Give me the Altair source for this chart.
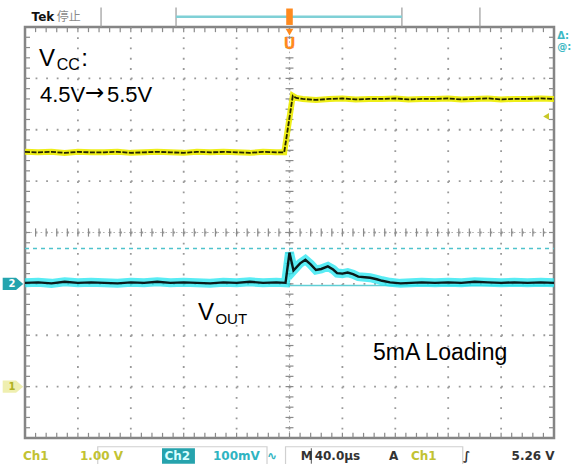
import altair as alt
import pandas as pd
import numpy as np

# ---------------- data ----------------
# time axis: 40 us/div, 10 divisions, trigger at centre
# Ch1 = VCC (1 V/div, ground marker at -3 div)
ch1_t = [-200, -190, -180, -170, -160, -150, -140, -130, -120, -110, -100, -90, -80, -70,
         -60, -50, -40, -30, -20, -10, -4, 2.5, 5, 10, 20, 30, 40, 50, 60, 70, 80, 90, 100,
         110, 120, 130, 140, 150, 160, 170, 180, 190, 200]
ch1_v = [4.57, 4.56, 4.57, 4.55, 4.57, 4.56, 4.56, 4.57, 4.55, 4.56, 4.57, 4.56, 4.55, 4.57,
         4.56, 4.57, 4.56, 4.55, 4.57, 4.56, 4.56, 5.66, 5.62, 5.60, 5.58, 5.60, 5.61, 5.59,
         5.60, 5.60, 5.61, 5.59, 5.60, 5.60, 5.61, 5.59, 5.60, 5.61, 5.59, 5.60, 5.60, 5.61, 5.60]
CH1_GND_DIV = -3.0
CH1_V_PER_DIV = 1.0

# Ch2 = VOUT (100 mV/div, reference marker at -1 div), values in mV
ch2_t = [-200, -190, -180, -170, -160, -150, -140, -130, -120, -110, -100, -90, -80, -70,
         -60, -50, -40, -30, -20, -10, -3, 0, 3, 8, 12, 16, 20, 24, 29, 33, 36, 40, 44, 48,
         52, 57, 61, 66, 70, 76, 84, 92, 100, 110, 120, 130, 140, 150, 160, 170, 180, 190, 200]
ch2_mv = [2, 3, 1, 4, 2, 3, 2, 1, 3, 2, 4, 2, 3, 2, 1, 3, 2, 4, 2, 3, 2, 61, 26, 40, 47, 38,
          27, 29, 34, 28, 21, 20, 22, 19, 14, 13, 12, 9, 6, 3, 1, 2, 3, 2, 3, 2, 4, 3, 2, 3,
          2, 3, 2]
CH2_REF_DIV = -1.0
CH2_MV_PER_DIV = 100.0
ch2_dash_mv = 69      # dashed cyan cursor
ch2_solid_mv = -3     # solid cyan line after trigger

# status-bar / header texts
status_texts = ["Ch1", "1.00 V", "Ch2", "100mV", "\u223f", "M", "40.0\u00b5s", "A", "Ch1", "\u222b"]
trigger_level_text = "5.26 V"

W, H = 529, 411
xs = alt.Scale(domain=[-200, 200], nice=False, zero=False)
ys = alt.Scale(domain=[-4, 4], nice=False, zero=False)


def X(f="t"):
    return alt.X(f"{f}:Q", scale=xs, axis=None)


def Y(f="v"):
    return alt.Y(f"{f}:Q", scale=ys, axis=None)


df1 = pd.DataFrame({"t": ch1_t, "v": [CH1_GND_DIV + v / CH1_V_PER_DIV for v in ch1_v]})
df2 = pd.DataFrame({"t": ch2_t, "v": [CH2_REF_DIV + m / CH2_MV_PER_DIV for m in ch2_mv]})

GRID = "#9a9a9a"
# ---------------- graticule ----------------
vgrid = pd.DataFrame({"t": np.arange(-160, 161, 40), "v": 4.0, "v2": -4.0})
hgrid = pd.DataFrame({"v": np.arange(-3, 4, 1), "t": -200.0, "t2": 200.0})
vgrid_l = alt.Chart(vgrid).mark_rule(color=GRID, strokeWidth=1.8, strokeDash=[1.8, 8.475]).encode(
    x=X(), y=Y(), y2="v2")
hgrid_l = alt.Chart(hgrid).mark_rule(color=GRID, strokeWidth=1.8, strokeDash=[1.8, 8.78]).encode(
    y=Y(), x=X(), x2="t2")

xm = np.arange(-192, 193, 8)
ym = np.round(np.arange(-3.8, 3.81, 0.2), 2)
tick_rows = []
for t in xm:
    tick_rows += [dict(t=t, t2=t, v=4.0, v2=3.9), dict(t=t, t2=t, v=-4.0, v2=-3.9),
                  dict(t=t, t2=t, v=-0.08, v2=0.08)]
for v in ym:
    tick_rows += [dict(t=-200, t2=-196.2, v=v, v2=v), dict(t=200, t2=196.2, v=v, v2=v),
                  dict(t=-3, t2=3, v=v, v2=v)]
ticks = pd.DataFrame(tick_rows)
ticks_l = alt.Chart(ticks).mark_rule(color="#8a8a8a", strokeWidth=1.2).encode(
    x=X(), x2="t2", y=Y(), y2="v2")
centre = pd.DataFrame([dict(t=-200, t2=200, v=0, v2=0), dict(t=0, t2=0, v=-4, v2=4)])
centre_l = alt.Chart(centre).mark_rule(color="#b0b0b0", strokeWidth=1, strokeDash=[1.6, 3.6]).encode(
    x=X(), x2="t2", y=Y(), y2="v2")

# ---------------- cursors ----------------
dash_l = alt.Chart(pd.DataFrame({"v": [CH2_REF_DIV + ch2_dash_mv / CH2_MV_PER_DIV],
                                 "t": [-200], "t2": [200]})).mark_rule(
    color="#4fc3cc", strokeWidth=1.4, strokeDash=[4, 4]).encode(y=Y(), x=X(), x2="t2")
solid_l = alt.Chart(pd.DataFrame({"v": [CH2_REF_DIV + ch2_solid_mv / CH2_MV_PER_DIV],
                                  "t": [-1], "t2": [200]})).mark_rule(
    color="#5fd0d6", strokeWidth=1.5).encode(y=Y(), x=X(), x2="t2")

# ---------------- traces ----------------
y_halo = alt.Chart(df1).mark_line(color="#ecec00", strokeWidth=6, opacity=0.9).encode(x=X(), y=Y())
y_core = alt.Chart(df1).mark_line(color="#222200", strokeWidth=1.8, strokeDash=[5, 1.5]).encode(x=X(), y=Y())
c_halo = alt.Chart(df2).mark_line(color="#22e6f0", strokeWidth=9, opacity=0.75).encode(x=X(), y=Y())
c_core = alt.Chart(df2).mark_line(color="#0a1a1a", strokeWidth=2.4).encode(x=X(), y=Y())

# ---------------- annotations ----------------
ann = pd.DataFrame([
    dict(t=-189.4, v=3.24, s="V", fs=24, f="Liberation Sans"),
    dict(t=-176.0, v=3.16, s="CC", fs=16, f="Liberation Sans"),
    dict(t=-157.5, v=3.24, s=":", fs=24, f="Liberation Sans"),
    dict(t=-188.7, v=2.54, s="4.5V", fs=22, f="Liberation Sans"),
    dict(t=-154.6, v=2.58, s="\u2192", fs=23, f="DejaVu Sans"),
    dict(t=-138.0, v=2.54, s="5.5V", fs=22, f="Liberation Sans"),
    dict(t=-69.2, v=-1.70, s="V", fs=24, f="Liberation Sans"),
    dict(t=-56.0, v=-1.78, s="OUT", fs=15, f="Liberation Sans"),
    dict(t=63.1, v=-2.48, s="5mA Loading", fs=23, f="Liberation Sans"),
])
arrow_l = alt.Chart(ann[ann.f == "DejaVu Sans"]).mark_text(
    align="left", baseline="alphabetic", font="DejaVu Sans", color="black", clip=False).encode(
    x=X(), y=Y(), text="s:N", size=alt.Size("fs:Q", scale=None))
ann_l = alt.Chart(ann[ann.f == "Liberation Sans"]).mark_text(
    align="left", baseline="alphabetic", font="Liberation Sans", color="black", clip=False).encode(
    x=X(), y=Y(), text="s:N", size=alt.Size("fs:Q", scale=None))

# ---------------- scope chrome ----------------
SV = -4.36  # status bar row
YEL = "#c2c232"
CYN = "#2fb4c2"
status = pd.DataFrame([
    dict(t=-201.5, v=SV, s=status_texts[0], c=YEL),
    dict(t=-158.4, v=SV, s=status_texts[1], c=YEL),
    dict(t=-94.5, v=SV, s=status_texts[2], c="#d8ffff"),
    dict(t=-57.9, v=SV, s=status_texts[3], c=CYN),
    dict(t=-17.0, v=SV, s=status_texts[4], c=CYN),
    dict(t=8.5, v=SV, s=status_texts[5], c="#333333"),
    dict(t=19.0, v=SV, s=status_texts[6], c="#333333"),
    dict(t=75.2, v=SV, s=status_texts[7], c="#333333"),
    dict(t=91.8, v=SV, s=status_texts[8], c=YEL),
    dict(t=131.2, v=SV, s=status_texts[9], c="#333333"),
])
box_l = alt.Chart(pd.DataFrame([dict(t=-145, t2=-17, v=-4.17, v2=-4.52),
                                dict(t=-3, t2=131, v=-4.17, v2=-4.52)])).mark_rect(
    fill="white", stroke="#d0d0d0", strokeWidth=1.2, clip=False).encode(
    x=X(), x2="t2", y=Y(), y2="v2")
ch2box_l = alt.Chart(pd.DataFrame([dict(t=-96.4, t2=-71.5, v=-4.2, v2=-4.5)])).mark_rect(
    fill="#26a3ad", clip=False).encode(x=X(), x2="t2", y=Y(), y2="v2")
status_l = alt.Chart(status).mark_text(align="left", baseline="middle", font="DejaVu Sans",
                                       fontSize=12, fontWeight="bold", clip=False).encode(
    x=X(), y=Y(), text="s:N", color=alt.Color("c:N", scale=None))
trig_l = alt.Chart(pd.DataFrame([dict(t=200.5, v=SV, s=trigger_level_text)])).mark_text(
    align="right", baseline="middle", font="DejaVu Sans", fontSize=12, fontWeight="bold",
    color="#333333", clip=False).encode(x=X(), y=Y(), text="s:N")
mdiv_l = alt.Chart(pd.DataFrame([dict(t=16.5, v=-4.2, v2=-4.5)])).mark_rule(
    color="#555", strokeWidth=1, clip=False).encode(x=X(), y=Y(), y2="v2")

# header: Tek 停止, record-length ruler
tek_l = alt.Chart(pd.DataFrame([dict(t=-195, v=4.2, s="Tek")])).mark_text(
    align="left", baseline="middle", font="DejaVu Sans", fontSize=12, fontWeight="bold",
    color="#111111", clip=False).encode(x=X(), y=Y(), text="s:N")
stop_l = alt.Chart(pd.DataFrame([dict(t=-176, v=4.2, s="\u505c\u6b62")])).mark_text(
    align="left", baseline="middle", font="Noto Sans CJK SC", fontSize=12,
    color="#8a8a8a", clip=False).encode(x=X(), y=Y(), text="s:N")
ruler_t = [-142.5, -85.8, 85.0, 144.0]
ruler_l = alt.Chart(pd.DataFrame({"t": ruler_t, "v": 4.38, "v2": 4.0})).mark_rule(
    color="#9a9a9a", strokeWidth=1.2, clip=False).encode(x=X(), y=Y(), y2="v2")
bracket_l = alt.Chart(pd.DataFrame([dict(t=-85.8, t2=85.0, v=4.2)])).mark_rule(
    color="#7fd0d6", strokeWidth=2.5, clip=False).encode(x=X(), x2="t2", y=Y())

# trigger position markers (orange)
ORG = "#ff8a1e"
tpos_top = alt.Chart(pd.DataFrame([dict(t=0, v=4.2)])).mark_point(
    shape="M-0.4,-1L0.4,-1L0.4,1L-0.4,1Z", filled=True, size=270, color=ORG, opacity=1,
    clip=False).encode(x=X(), y=Y())
tpos_arrow = alt.Chart(pd.DataFrame([dict(t=0, v=3.9)])).mark_point(
    shape="triangle-down", filled=True, size=60, color=ORG, opacity=1, clip=False).encode(x=X(), y=Y())
tpos_u = alt.Chart(pd.DataFrame([dict(t=0, v=3.67, s="U")])).mark_text(
    font="DejaVu Sans", fontSize=15, fontWeight="bold", color=ORG, baseline="middle",
    align="center", clip=False).encode(x=X(), y=Y(), text="s:N")

# channel ground markers
TAG = "M-1,-0.6L0.3,-0.6L1,0L0.3,0.6L-1,0.6Z"
marks = pd.DataFrame([dict(t=-209.1, v=CH2_REF_DIV, s="2", f="#24a4ae", tc="white"),
                      dict(t=-209.1, v=CH1_GND_DIV, s="1", f="#efefb0", tc="#b0b020")])
tag_l = alt.Chart(marks).mark_point(shape=TAG, filled=True, size=420, opacity=1, clip=False).encode(
    x=X(), y=Y(), color=alt.Color("f:N", scale=None))
tagtxt_l = alt.Chart(marks).mark_text(font="DejaVu Sans", fontSize=10, fontWeight="bold",
                                      baseline="middle", align="center", dx=-1, clip=False).encode(
    x=X(), y=Y(), text="s:N", color=alt.Color("tc:N", scale=None))
# trigger level arrow (right edge)
tlev_l = alt.Chart(pd.DataFrame([dict(t=194, v=5.26 - 3.0)])).mark_point(
    shape="triangle-left", filled=True, size=45, color="#c8c828", opacity=1).encode(x=X(), y=Y())
# top-right readout glyphs
tr = pd.DataFrame([dict(t=202.5, v=3.82, s="\u0394:"), dict(t=202.5, v=3.62, s="@:")])
tr_l = alt.Chart(tr).mark_text(align="left", baseline="middle", font="DejaVu Sans", fontSize=10,
                               fontWeight="bold", color="#3cb8c4", clip=False).encode(
    x=X(), y=Y(), text="s:N")

chart = alt.layer(
    vgrid_l, hgrid_l, centre_l, ticks_l, dash_l, solid_l,
    y_halo, y_core, c_halo, c_core,
    ann_l, arrow_l, box_l, ch2box_l, mdiv_l, status_l, trig_l, tek_l, stop_l, ruler_l, bracket_l,
    tpos_top, tpos_arrow, tpos_u, tag_l, tagtxt_l, tlev_l, tr_l,
).properties(
    width=W, height=H,
    padding={"left": 25, "top": 27, "right": 28, "bottom": 26},
    autosize=alt.AutoSizeParams(type="none"),
    background="white",
).configure_view(stroke="#858585", strokeWidth=2.5)

chart.save("out.html", embed_options={"renderer": "svg", "actions": False})
